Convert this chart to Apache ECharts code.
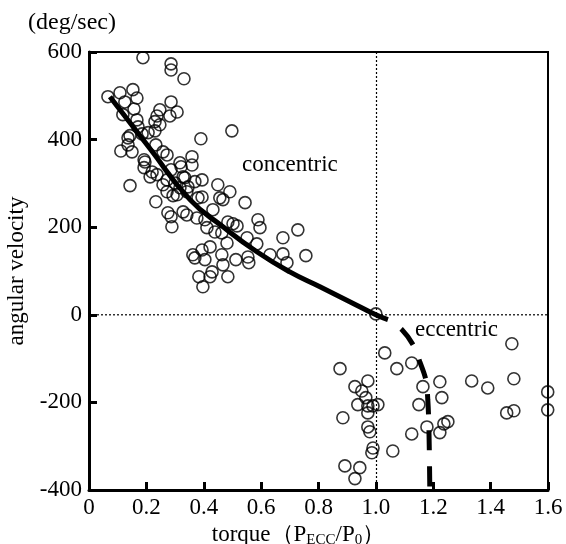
<!DOCTYPE html>
<html>
<head>
<meta charset="utf-8">
<script src="https://cdn.jsdelivr.net/npm/echarts@6/dist/echarts.min.js"></script>
<style>html,body{margin:0;padding:0;background:#fff;}#c{width:566px;height:544px;}</style>
</head>
<body>
<div id="c"></div>
<script>
const xTickLabels = ['0','0.2','0.4','0.6','0.8','1.0','1.2','1.4','1.6'];
const yTickLabels = ['-400','-200','0','200','400','600'];

const concentricX = [0.188,0.286,0.286,0.331,0.066,0.108,0.153,0.167,0.125,0.157,0.286,0.247,0.307,0.282,0.237,0.230,0.247,0.167,0.118,0.171,0.230,0.206,0.185,0.143,0.390,0.136,0.111,0.150,0.233,0.258,0.272,0.359,0.192,0.317,0.498,0.143,0.192,0.213,0.237,0.286,0.321,0.359,0.328,0.300,0.258,0.369,0.233,0.307,0.341,0.380,0.394,0.449,0.456,0.432,0.275,0.286,0.328,0.341,0.376,0.404,0.289,0.422,0.362,0.369,0.404,0.467,0.394,0.491,0.544,0.484,0.502,0.516,0.589,0.596,0.411,0.439,0.463,0.728,0.676,0.551,0.585,0.481,0.394,0.631,0.676,0.690,0.756,0.554,0.557,0.512,0.463,0.467,0.429,0.422,0.484,0.397,0.383,0.272,0.334,0.317,0.345,0.293,0.272,0.220,0.136,0.195,1.0];
const concentricY = [587,573,559,539,498,507,514,495,486,470,486,468,463,454,454,441,434,445,457,429,420,416,413,409,402,388,374,372,388,372,365,361,354,347,420,295,336,315,320,331,338,342,315,301,297,304,258,274,281,267,269,297,267,240,233,224,235,228,221,217,201,155,137,130,126,263,308,281,256,212,208,203,217,199,199,189,187,194,176,176,162,164,148,137,139,119,135,132,119,126,137,114,98,87,87,64,87,308,313,290,292,272,281,326,404,349,2];

const eccentricX = [0.875,1.031,1.073,1.125,0.972,0.927,0.951,0.965,0.937,0.972,0.990,1.007,0.972,0.885,0.972,0.979,0.990,0.986,1.059,0.892,0.944,0.927,1.164,1.150,1.178,1.125,1.223,1.230,1.223,1.237,1.251,1.334,1.390,1.474,1.481,1.456,1.481,1.599,1.599];
const eccentricY = [-123,-87,-123,-110,-151,-164,-174,-189,-205,-208,-208,-205,-224,-235,-256,-267,-304,-315,-311,-345,-349,-374,-164,-205,-256,-272,-153,-189,-269,-249,-244,-151,-167,-66,-146,-224,-219,-176,-217];

const concentricCurveX = [0.073,0.213,0.352,0.467,0.585,0.700,0.805,0.909,1.0,1.042];
const concentricCurveY = [498,379,263,201,144,98,64,30,0,-11];
const eccentricCurveX = [1.042,1.091,1.129,1.153,1.174,1.181,1.185,1.188];
const eccentricCurveY = [-11,-34,-68,-107,-148,-194,-263,-400];

const zip = (a, b) => a.map((v, i) => [v, b[i]]);
const serif = '"Liberation Serif","Times New Roman",serif';

const chart = echarts.init(document.getElementById('c'), null, {renderer: 'canvas'});
chart.setOption({
  animation: false,
  backgroundColor: '#fff',
  grid: {left: 89, right: 18, top: 52, bottom: 54, outerBoundsMode: 'none', containLabel: false,
    show: true, borderColor: '#000', borderWidth: 2, backgroundColor: 'transparent'},
  xAxis: {
    type: 'value', min: 0, max: 1.6, interval: 0.2,
    axisLine: {show: true, onZero: false, lineStyle: {color: '#000', width: 3}},
    axisTick: {show: true, inside: true, length: 8, lineStyle: {color: '#000', width: 3}},
    splitLine: {show: false},
    axisLabel: {color: '#000', fontFamily: serif, fontSize: 23, margin: 6,
      formatter: v => xTickLabels[Math.round(v / 0.2)]},
    name: '{t|torque（P}{s|ECC}{t|/P}{s|0}{t|）}',
    nameLocation: 'middle', nameGap: 31,
    nameTextStyle: {padding: [0, 40, 0, 0], rich: {
      t: {fontFamily: serif, fontSize: 23, color: '#000'},
      s: {fontFamily: serif, fontSize: 15, color: '#000', verticalAlign: 'bottom', padding: [10, 0, 0, 0]}
    }}
  },
  yAxis: {
    type: 'value', min: -400, max: 600, interval: 200,
    axisLine: {show: true, onZero: false, lineStyle: {color: '#000', width: 3}},
    axisTick: {show: true, inside: true, length: 8, lineStyle: {color: '#000', width: 3}},
    splitLine: {show: false},
    axisLabel: {color: '#000', fontFamily: serif, fontSize: 23, margin: 7,
      formatter: v => yTickLabels[Math.round((v + 400) / 200)]},
    name: 'angular velocity', nameLocation: 'middle', nameGap: 59, nameRotate: 90,
    nameTextStyle: {fontFamily: serif, fontSize: 23, color: '#000'}
  },
  graphic: [
    {type: 'text', left: 28, top: 11, style: {text: '(deg/sec)', font: '24px ' + serif, fill: '#000'}},
    {type: 'text', left: 242, top: 153, style: {text: 'concentric', font: '23px ' + serif, fill: '#000'}},
    {type: 'text', left: 415, top: 318, style: {text: 'eccentric', font: '23px ' + serif, fill: '#000'}}
  ],
  series: [
    {
      type: 'line', data: [[0, 0], [1.6, 0]], symbol: 'none', silent: true,
      lineStyle: {color: '#000', width: 1.2, type: [2, 2]}, z: 1,
      markLine: {silent: true, symbol: 'none', label: {show: false},
        lineStyle: {color: '#000', width: 1.2, type: [2, 2]},
        data: [{xAxis: 1.0}]}
    },
    {
      type: 'line', data: zip(concentricCurveX, concentricCurveY), symbol: 'none', smooth: 0.5,
      lineStyle: {color: '#000', width: 5}, z: 3
    },
    {
      type: 'line', data: zip(eccentricCurveX, eccentricCurveY), symbol: 'none', smooth: 0.35,
      lineStyle: {color: '#000', width: 5, type: [20, 16], dashOffset: 20, cap: 'butt'}, z: 3
    },
    {
      type: 'scatter', data: zip(concentricX, concentricY), symbol: 'circle', symbolSize: 12,
      itemStyle: {color: 'rgba(0,0,0,0)', borderColor: '#000', borderWidth: 1.6}, z: 4
    },
    {
      type: 'scatter', data: zip(eccentricX, eccentricY), symbol: 'circle', symbolSize: 12,
      itemStyle: {color: 'rgba(0,0,0,0)', borderColor: '#000', borderWidth: 1.6}, z: 4
    }
  ]
});
</script>
</body>
</html>
